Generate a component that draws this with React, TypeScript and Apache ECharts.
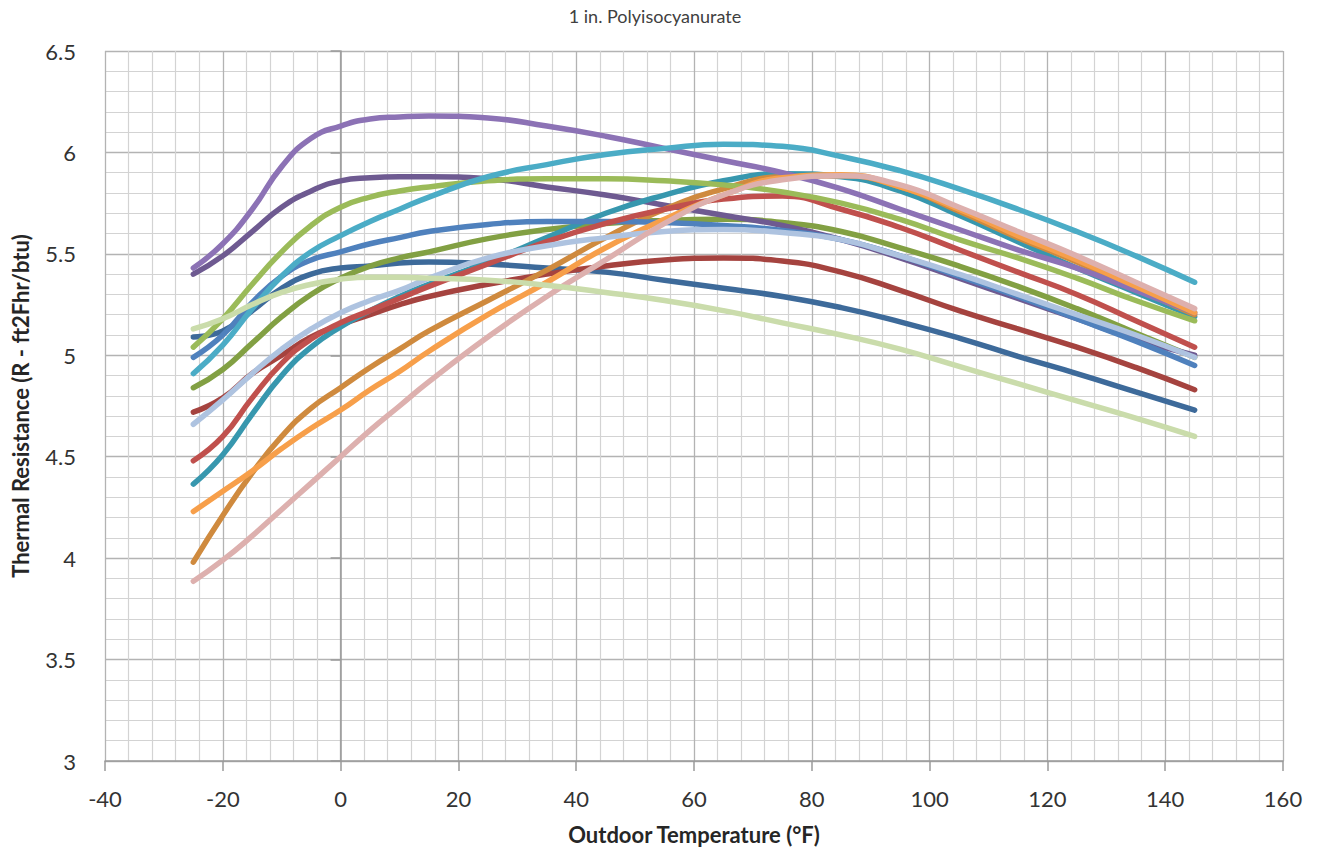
import React, { useEffect, useRef } from "react";
import * as echarts from "echarts";

const temps = [-25, -20, -15, -10, -5, 0, 5, 10, 15, 25, 35, 45, 55, 65, 75, 85, 95, 105, 115, 125, 135, 145];

const darkBlue = [5.09, 5.12, 5.22, 5.33, 5.40, 5.43, 5.44, 5.455, 5.46, 5.45, 5.43, 5.41, 5.37, 5.33, 5.29, 5.235, 5.165, 5.085, 4.995, 4.91, 4.82, 4.73];
const darkRed = [4.72, 4.79, 4.91, 5.00, 5.09, 5.15, 5.20, 5.25, 5.29, 5.35, 5.40, 5.44, 5.47, 5.48, 5.465, 5.41, 5.32, 5.22, 5.13, 5.04, 4.94, 4.83];
const olive = [4.84, 4.93, 5.06, 5.19, 5.30, 5.38, 5.44, 5.48, 5.51, 5.575, 5.62, 5.65, 5.665, 5.67, 5.655, 5.61, 5.53, 5.44, 5.34, 5.23, 5.11, 4.99];
const darkPurple = [5.40, 5.49, 5.61, 5.73, 5.81, 5.86, 5.875, 5.88, 5.88, 5.87, 5.83, 5.79, 5.74, 5.69, 5.64, 5.57, 5.48, 5.38, 5.28, 5.18, 5.08, 5.00];
const teal = [4.365, 4.51, 4.71, 4.90, 5.04, 5.14, 5.22, 5.29, 5.35, 5.46, 5.58, 5.70, 5.79, 5.86, 5.895, 5.88, 5.81, 5.69, 5.56, 5.43, 5.31, 5.19];
const darkOrange = [3.98, 4.21, 4.42, 4.60, 4.74, 4.84, 4.94, 5.03, 5.12, 5.27, 5.42, 5.58, 5.72, 5.82, 5.88, 5.885, 5.83, 5.71, 5.58, 5.46, 5.33, 5.20];
const blue = [4.99, 5.10, 5.26, 5.39, 5.47, 5.51, 5.55, 5.58, 5.61, 5.645, 5.66, 5.66, 5.655, 5.64, 5.615, 5.57, 5.49, 5.39, 5.29, 5.18, 5.07, 4.95];
const red = [4.48, 4.60, 4.79, 4.96, 5.08, 5.16, 5.22, 5.28, 5.34, 5.45, 5.56, 5.65, 5.72, 5.77, 5.785, 5.72, 5.63, 5.52, 5.41, 5.30, 5.17, 5.04];
const green = [5.04, 5.18, 5.35, 5.51, 5.64, 5.73, 5.78, 5.81, 5.83, 5.86, 5.87, 5.87, 5.86, 5.84, 5.805, 5.75, 5.67, 5.57, 5.48, 5.38, 5.27, 5.17];
const purple = [5.43, 5.55, 5.72, 5.93, 6.07, 6.13, 6.165, 6.175, 6.18, 6.17, 6.13, 6.08, 6.02, 5.96, 5.90, 5.82, 5.72, 5.62, 5.52, 5.43, 5.32, 5.21];
const aqua = [4.91, 5.05, 5.23, 5.39, 5.51, 5.59, 5.66, 5.72, 5.78, 5.88, 5.94, 5.99, 6.02, 6.04, 6.03, 5.98, 5.91, 5.82, 5.72, 5.61, 5.49, 5.36];
const orange = [4.23, 4.33, 4.43, 4.54, 4.64, 4.73, 4.83, 4.92, 5.02, 5.20, 5.36, 5.53, 5.67, 5.79, 5.875, 5.89, 5.83, 5.72, 5.59, 5.47, 5.34, 5.21];
const lightBlue = [4.66, 4.78, 4.91, 5.03, 5.13, 5.21, 5.27, 5.32, 5.38, 5.48, 5.54, 5.58, 5.61, 5.62, 5.605, 5.57, 5.49, 5.40, 5.30, 5.20, 5.10, 4.99];
const pink = [3.886, 3.99, 4.11, 4.24, 4.37, 4.50, 4.63, 4.75, 4.87, 5.09, 5.29, 5.47, 5.65, 5.79, 5.865, 5.885, 5.84, 5.73, 5.61, 5.49, 5.36, 5.23];
const paleGreen = [5.13, 5.18, 5.25, 5.31, 5.35, 5.375, 5.385, 5.385, 5.38, 5.37, 5.345, 5.31, 5.27, 5.22, 5.16, 5.10, 5.03, 4.945, 4.86, 4.775, 4.69, 4.60];

const seriesList: [string, number[], string][] = [
  ["Dark Blue", darkBlue, "#3D6A9A"],
  ["Dark Red", darkRed, "#A5433F"],
  ["Olive", olive, "#82A043"],
  ["Dark Purple", darkPurple, "#6E5A91"],
  ["Teal", teal, "#3797AE"],
  ["Dark Orange", darkOrange, "#CF8A3E"],
  ["Blue", blue, "#4F81BD"],
  ["Red", red, "#C0504D"],
  ["Green", green, "#9BBB59"],
  ["Purple", purple, "#8C72B5"],
  ["Aqua", aqua, "#4BACC6"],
  ["Orange", orange, "#F79F4A"],
  ["Light Blue", lightBlue, "#AEC3E0"],
  ["Pink", pink, "#DDB0AE"],
  ["Pale Green", paleGreen, "#CADCAB"],
];

const title = "1 in. Polyisocyanurate";
const xName = "Outdoor Temperature (°F)";
const yName = "Thermal Resistance (R - ft2Fhr/btu)";

export default function App() {
  const ref = useRef<HTMLDivElement>(null);
  useEffect(() => {
    document.body.style.margin = "0";
    const chart = echarts.init(ref.current!, null, { renderer: "svg" });
    const font = "Lato, 'Open Sans', sans-serif";
    chart.setOption({
      animation: false,
      backgroundColor: "#ffffff",
      graphic: [
        {
          type: "text",
          x: 655,
          y: 16,
          style: { text: title, fontSize: 18, fill: "#404040", fontFamily: font, textAlign: "center", textVerticalAlign: "middle" },
        },
      ],
      grid: { left: 105, right: 41, top: 51, bottom: 81, containLabel: false },
      xAxis: {
        type: "value",
        min: -40,
        max: 160,
        interval: 20,
        name: xName,
        nameLocation: "middle",
        nameGap: 62,
        nameTextStyle: { fontSize: 22, fontWeight: "bold", color: "#262626", fontFamily: font },
        axisLine: { show: true, onZero: false, lineStyle: { color: "#9a9a9a", width: 1.5 } },
        axisTick: { show: true, length: 10, lineStyle: { color: "#9a9a9a", width: 1.5 } },
        axisLabel: { fontSize: 22, color: "#333", margin: 26, fontFamily: font },
        splitLine: { show: true, lineStyle: { color: "#b3b3b3", width: 1.3 } },
        minorTick: { show: false, splitNumber: 5 },
        minorSplitLine: { show: true, lineStyle: { color: "#d3d3d3", width: 1.2 } },
      },
      yAxis: {
        type: "value",
        min: 3,
        max: 6.5,
        interval: 0.5,
        name: yName,
        nameLocation: "middle",
        nameGap: 74,
        nameRotate: 90,
        nameTextStyle: { fontSize: 22, fontWeight: "bold", color: "#262626", fontFamily: font },
        axisLine: { show: true, lineStyle: { color: "#9a9a9a", width: 1.5 } },
        axisTick: { show: true, length: 10, lineStyle: { color: "#9a9a9a", width: 1.5 } },
        axisLabel: { fontSize: 22, color: "#333", margin: 29, fontFamily: font },
        splitLine: { show: true, lineStyle: { color: "#b3b3b3", width: 1.3 } },
        minorTick: { show: false, splitNumber: 5 },
        minorSplitLine: { show: true, lineStyle: { color: "#d3d3d3", width: 1.2 } },
      },
      series: seriesList.map(([name, vals, color]) => ({
        name,
        type: "line",
        smooth: 0.5,
        showSymbol: false,
        symbol: "none",
        data: temps.map((t, i) => [t, vals[i]]),
        lineStyle: { color, width: 5.5, cap: "round", join: "round" },
        itemStyle: { color },
      })),
    });
    return () => chart.dispose();
  }, []);
  return <div ref={ref} style={{ width: 1324, height: 850 }} />;
}
